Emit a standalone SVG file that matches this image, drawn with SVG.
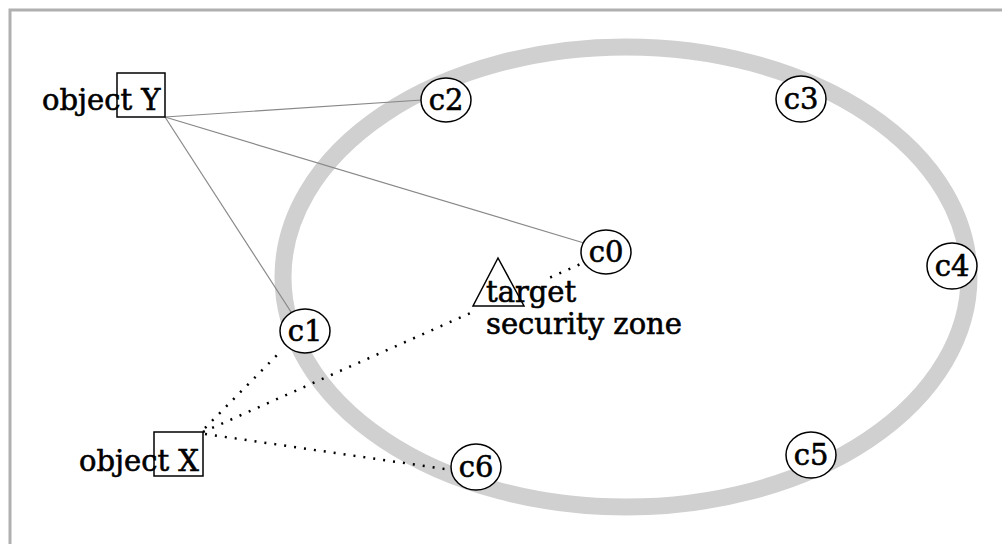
<svg xmlns="http://www.w3.org/2000/svg" width="1002" height="544" viewBox="0 0 1002 544">
<style>
.lbl{font-family:"DejaVu Serif","Liberation Serif",serif;font-size:29px;fill:#000;stroke:#000;stroke-width:0.6}
.c{fill:#fff;stroke:#000;stroke-width:1.5}
.box{fill:none;stroke:#000;stroke-width:1.5}
.solid{stroke:#888;stroke-width:1.2;fill:none}
.dot{stroke:#000;stroke-width:2.5;fill:none;stroke-dasharray:2 8}
</style>
<rect x="0" y="0" width="1002" height="544" fill="#fff"/>
<rect x="10" y="10" width="1000" height="540" fill="none" stroke="#b0b0b0" stroke-width="3"/>
<g id="zone">
<ellipse cx="626" cy="277" rx="343" ry="230" fill="none" stroke="#d0d0d0" stroke-width="17"/>
</g>
<g id="connectors">
<line class="solid" x1="165" y1="117" x2="422" y2="100"/>
<line class="solid" x1="165" y1="117" x2="584" y2="243"/>
<line class="solid" x1="165" y1="117" x2="293" y2="315"/>
<line class="dot" x1="205" y1="428" x2="282" y2="350"/>
<line class="dot" x1="203" y1="432" x2="585" y2="262"/>
<line class="dot" x1="205" y1="434" x2="452" y2="470"/>
</g>
<g id="target">
<rect x="474" y="278" width="76" height="34" fill="#fff"/>
<polygon points="498,258 473,306 524,306" fill="none" stroke="#000" stroke-width="1.5"/>
<text class="lbl" x="486" y="302">target</text>
<text class="lbl" x="486" y="334">security zone</text>
</g>
<g id="objectY">
<text class="lbl" x="42" y="110">object Y</text>
<rect class="box" x="117" y="73" width="48" height="44"/>
</g>
<g id="objectX">
<text class="lbl" x="79" y="471">object X</text>
<rect class="box" x="154" y="432" width="49" height="44"/>
</g>
<g id="c0"><ellipse class="c" cx="606" cy="252" rx="25" ry="22"/><text class="lbl" x="606" y="262" text-anchor="middle">c0</text></g>
<g id="c1"><ellipse class="c" cx="305" cy="331" rx="25" ry="22"/><text class="lbl" x="305" y="341" text-anchor="middle">c1</text></g>
<g id="c2"><ellipse class="c" cx="446" cy="100" rx="25" ry="22"/><text class="lbl" x="446" y="110" text-anchor="middle">c2</text></g>
<g id="c3"><ellipse class="c" cx="801" cy="99" rx="25" ry="23"/><text class="lbl" x="801" y="109" text-anchor="middle">c3</text></g>
<g id="c4"><ellipse class="c" cx="952" cy="266" rx="25" ry="23"/><text class="lbl" x="952" y="276" text-anchor="middle">c4</text></g>
<g id="c5"><ellipse class="c" cx="811" cy="455" rx="25" ry="23"/><text class="lbl" x="811" y="465" text-anchor="middle">c5</text></g>
<g id="c6"><ellipse class="c" cx="476" cy="467" rx="25" ry="23"/><text class="lbl" x="476" y="477" text-anchor="middle">c6</text></g>
</svg>
